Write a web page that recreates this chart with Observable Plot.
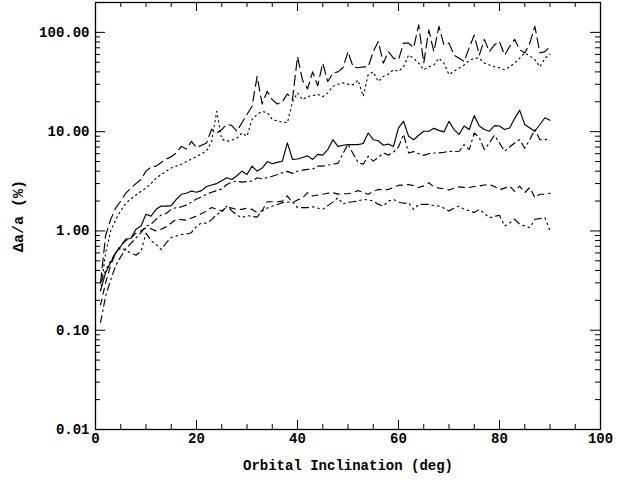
<!DOCTYPE html>
<html><head><meta charset="utf-8">
<script src="https://cdn.jsdelivr.net/npm/d3@7"></script>
<script src="https://cdn.jsdelivr.net/npm/@observablehq/plot@0.6"></script>
<style>body{margin:0;background:#fff} svg{display:block}</style>
</head><body><div id="chart"></div>
<script>
// Orbital inclination (deg), one sample per degree
const inclination = d3.range(1, 91);

// Δa/a (%) per series
const longDash = [0.3,0.9,1.3,1.7,2.0,2.4,2.7,3.0,3.3,4.0,4.4,4.5,4.9,5.3,5.6,6.1,7.1,6.7,8.0,6.9,
  7.3,7.7,10.6,9.7,10.5,11.9,11.5,10.1,12.3,14.9,18,36,19,25.5,21,19,20,24,21,57,
  33,27,40,29,49,32,39,40,44,64,45,44,45,45,64,81,49,64,55,53,
  78,78,70,119,49,106,64,115,75,78,59,55,51,70,94,59,85,64,75,81,
  59,72,85,67,62,78,115,62,64,72];
const dotted = [0.25,0.6,1.0,1.3,1.6,1.9,2.1,2.3,2.5,2.7,3.0,3.4,3.7,4.0,4.3,4.5,4.7,5.0,5.3,5.6,
  6.0,6.4,8.0,16,8.4,8.0,8.2,8.6,9.7,9.0,13.3,14.9,16,15.5,13.3,12.8,12.5,12.3,20,24.6,
  21,22.7,23,23.8,22.5,24.6,28.6,30,31,30,29.7,33,22.7,37.6,40,32,36,38,42,40.6,
  45,59,55,49,42,45,47,55,49,37.6,40.6,43.8,47,52,55,55,49,47,45,44,
  42,45,49,55,62,58,53,45,55,60];
const solid = [0.25,0.38,0.48,0.6,0.7,0.83,0.84,1.04,1.12,1.47,1.41,1.65,1.78,1.78,1.8,2.08,2.34,2.4,2.52,2.45,
  2.55,2.8,2.9,3.0,3.2,3.43,3.3,3.6,4.0,3.7,4.5,4.0,4.3,5.0,4.75,4.9,5.05,7.7,5.25,5.3,
  5.5,5.7,5.25,5.9,5.8,6.6,8.3,7.1,7.3,7.4,7.4,7.4,7.6,9.7,8.3,8.1,7.3,7.5,7.1,10.9,
  12.7,9.0,8.3,9.2,10.1,10.1,10.8,10.3,9.95,12.7,10.5,9.4,11.4,10.5,14.5,11.4,10.5,10.1,11.5,11.4,
  10.5,10.9,13.6,16.4,11.8,10.9,10.1,11.8,13.8,13.0];
const dashDot = [0.12,0.22,0.32,0.45,0.55,0.66,0.75,0.85,0.96,1.12,1.17,1.31,1.45,1.5,1.65,1.72,1.75,1.82,1.95,2.1,
  2.2,2.35,2.45,2.55,2.65,2.94,3.1,3.18,3.1,3.15,3.18,3.43,3.35,3.45,3.56,3.7,3.86,3.98,3.8,4.0,
  4.1,4.17,4.2,4.5,4.5,4.6,4.7,4.8,6.0,7.5,6.0,4.9,4.7,5.66,5.05,5.5,6.1,5.8,6.2,7.0,
  9.4,6.1,6.3,6.0,5.77,6.0,6.1,6.1,6.2,6.35,6.3,6.35,7.4,6.6,9.7,8.7,6.6,7.7,9.2,7.7,
  6.35,7.0,7.7,8.3,6.8,8.3,10.5,8.3,8.3,8.5];
const dashed = [0.18,0.3,0.45,0.6,0.72,0.8,0.85,0.95,1.0,1.08,1.05,1.0,1.04,1.1,1.2,1.31,1.3,1.28,1.35,1.41,
  1.5,1.59,1.72,1.65,1.59,1.74,1.7,1.65,1.65,1.7,1.65,1.53,1.6,1.97,1.97,1.97,2.0,2.25,1.94,2.05,
  2.16,2.43,2.25,2.3,2.34,2.4,2.43,2.35,2.37,2.37,2.43,2.55,2.45,2.34,2.5,2.62,2.6,2.62,2.74,2.88,
  2.9,2.94,2.85,2.74,2.85,3.06,2.78,2.7,2.65,2.58,2.7,2.78,2.75,2.74,2.8,2.83,2.9,2.94,2.8,2.6,
  2.7,2.83,2.5,2.83,2.43,2.74,2.16,2.34,2.34,2.4];
const dashDotDot = [0.3,0.4,0.5,0.6,0.68,0.64,0.6,0.57,0.62,0.95,0.8,0.73,0.65,0.76,0.86,0.89,0.92,0.93,0.96,1.12,
  1.2,1.2,1.3,1.47,1.55,1.78,1.59,1.45,1.36,1.43,1.4,1.38,1.59,1.7,1.78,1.85,1.93,1.95,1.97,1.72,
  1.72,1.72,1.75,1.7,1.65,1.8,1.95,2.16,1.87,1.95,1.97,2.0,2.08,2.05,2.0,1.85,1.78,2.0,2.08,1.95,
  1.9,1.92,1.65,1.85,1.85,1.85,1.8,1.78,1.7,1.59,1.7,1.78,1.65,1.6,1.53,1.65,1.5,1.36,1.4,1.44,
  1.12,1.2,1.31,1.17,1.12,1.08,1.31,1.33,1.36,1.0];

const xTicks = [0, 20, 40, 60, 80, 100];
const yTicks = [0.01, 0.1, 1, 10, 100];
const xLabel = "Orbital Inclination (deg)";
const yLabel = "Δa/a (%)";

const series = [
  {values: longDash, dash: "10,5"},
  {values: dotted, dash: "1.3,3.7"},
  {values: solid, dash: null},
  {values: dashDot, dash: "7,4,1.5,4"},
  {values: dashed, dash: "6,5"},
  {values: dashDotDot, dash: "7,4,1.5,4,1.5,4,1.5,4"}
];

const W = 625, H = 482, mL = 95, mR = 25, mT = 2, mB = 53;
const fw = W - mL - mR, fh = H - mT - mB;
const xMinor = d3.range(0, 101, 5).filter(v => v % 20 !== 0);
const yMinor = [];
for (const e of [0.01, 0.1, 1, 10, 100]) for (let k = 2; k <= 9; k++) if (k * e < 200) yMinor.push(k * e);

const font = "'Liberation Mono', 'DejaVu Sans Mono', monospace";
const marks = [];
for (const s of series) {
  marks.push(Plot.line(inclination.map((x, i) => ({x, y: s.values[i]})), {
    x: "x", y: "y", stroke: "black", strokeWidth: 1.15,
    strokeDasharray: s.dash ?? undefined
  }));
}
marks.push(
  Plot.tickX(xTicks, {x: d => d, insetTop: fh - 9, stroke: "black"}),
  Plot.tickX(xTicks, {x: d => d, insetBottom: fh - 9, stroke: "black"}),
  Plot.tickX(xMinor, {x: d => d, insetTop: fh - 5, stroke: "black"}),
  Plot.tickX(xMinor, {x: d => d, insetBottom: fh - 5, stroke: "black"}),
  Plot.tickY(yTicks, {y: d => d, insetRight: fw - 10, stroke: "black"}),
  Plot.tickY(yTicks, {y: d => d, insetLeft: fw - 10, stroke: "black"}),
  Plot.tickY(yMinor, {y: d => d, insetRight: fw - 5, stroke: "black"}),
  Plot.tickY(yMinor, {y: d => d, insetLeft: fw - 5, stroke: "black"}),
  Plot.frame({stroke: "black", strokeWidth: 1.3}),
  Plot.axisX(xTicks, {tickSize: 0, tickPadding: 4, tickFormat: d3.format("d"), label: null,
    fontSize: 14, fontWeight: "bold"}),
  Plot.axisY(yTicks, {tickSize: 0, tickPadding: 6, tickFormat: d3.format(".2f"), label: null,
    fontSize: 14, fontWeight: "bold"}),
  Plot.text([xLabel], {text: d => d, frameAnchor: "bottom", dy: 36, lineAnchor: "middle",
    textAnchor: "middle", fontSize: 14, fontWeight: "bold"}),
  Plot.text([yLabel], {text: d => d, frameAnchor: "left", dx: -77, rotate: -90, lineAnchor: "middle",
    textAnchor: "middle", fontSize: 15, fontWeight: "bold"})
);

const chart = Plot.plot({
  width: W, height: H,
  marginLeft: mL, marginRight: mR, marginTop: mT, marginBottom: mB,
  style: {fontFamily: font, color: "black", background: "white"},
  x: {domain: [0, 100]},
  y: {type: "log", domain: [0.01, 200]},
  marks
});
document.getElementById("chart").appendChild(chart);
</script></body></html>
